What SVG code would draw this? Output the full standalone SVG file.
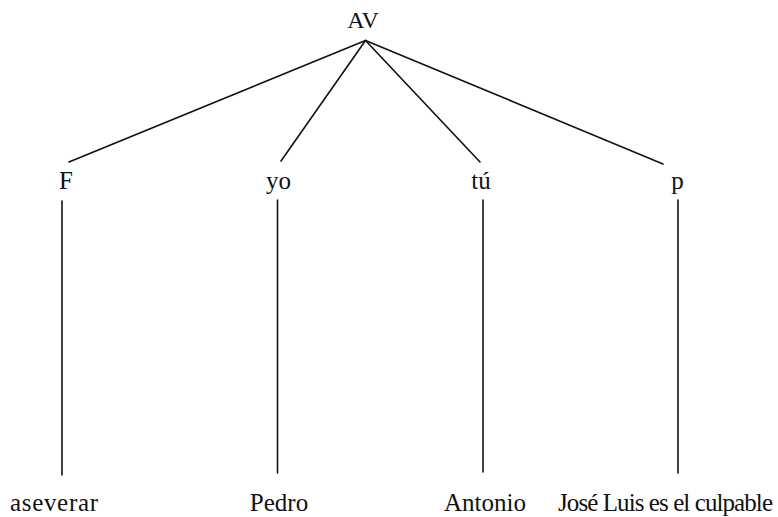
<svg xmlns="http://www.w3.org/2000/svg" width="778" height="517" viewBox="0 0 778 517">
  <style>
    .lbl { font-family: "Liberation Serif", "Times New Roman", serif; font-size: 25px; fill: #111; text-anchor: middle; }
    .edge { stroke: #111; stroke-width: 1.6; fill: none; stroke-linecap: round; }
  </style>
  <rect width="778" height="517" fill="#ffffff"/>
  <g id="connectors">
    <line class="edge" x1="365.5" y1="40.5" x2="69" y2="162"/>
    <line class="edge" x1="365.5" y1="40.5" x2="281" y2="161"/>
    <line class="edge" x1="365.5" y1="40.5" x2="480" y2="162"/>
    <line class="edge" x1="365.5" y1="40.5" x2="663" y2="164"/>
    <line class="edge" x1="62" y1="201" x2="62" y2="475"/>
    <line class="edge" x1="277.5" y1="200" x2="277.5" y2="473"/>
    <line class="edge" x1="483" y1="200" x2="483" y2="472"/>
    <line class="edge" x1="678" y1="200" x2="678" y2="473"/>
  </g>
  <g id="node-AV"><text class="lbl" x="363" y="28" style="font-size:24px">AV</text></g>
  <g id="node-F"><text class="lbl" x="66" y="189">F</text></g>
  <g id="node-yo"><text class="lbl" x="278.5" y="189">yo</text></g>
  <g id="node-tu"><text class="lbl" x="481" y="189">tú</text></g>
  <g id="node-p"><text class="lbl" x="677.5" y="189">p</text></g>
  <g id="node-aseverar"><text class="lbl" x="54" y="511" textLength="88" lengthAdjust="spacing">aseverar</text></g>
  <g id="node-Pedro"><text class="lbl" x="279" y="511">Pedro</text></g>
  <g id="node-Antonio"><text class="lbl" x="485" y="511">Antonio</text></g>
  <g id="node-culpable"><text class="lbl" x="665.5" y="511" textLength="215" lengthAdjust="spacing">José Luis es el culpable</text></g>
</svg>
